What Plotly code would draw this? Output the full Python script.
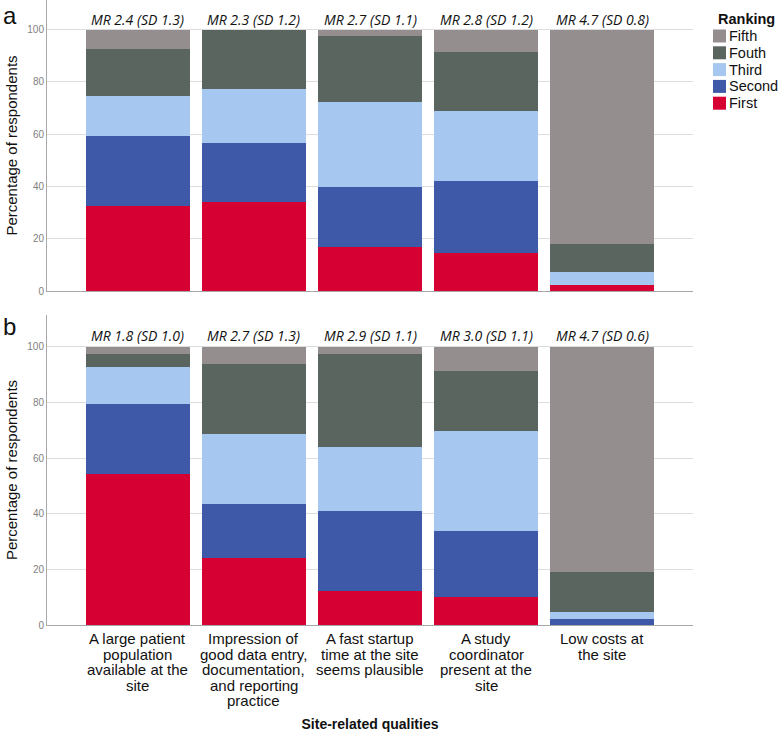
import plotly.graph_objects as go

categories = [
    "A large patient<br>population<br>available at the<br>site",
    "Impression of<br>good data entry,<br>documentation,<br>and reporting<br>practice",
    "A fast startup<br>time at the site<br>seems plausible",
    "A study<br>coordinator<br>present at the<br>site",
    "Low costs at<br>the site",
]
rank_names = ["First", "Second", "Third", "Fouth", "Fifth"]
rank_colors = ["#D70032", "#3E59A8", "#A6C8F0", "#5B6560", "#948F8E"]

# Panel a: percentage per ranking (First..Fifth) for each quality
a_first = [32.7, 34.0, 17.0, 14.4, 2.4]
a_second = [26.4, 22.6, 22.8, 27.7, 0.0]
a_third = [15.6, 20.7, 32.6, 26.7, 4.8]
a_fourth = [18.0, 22.7, 25.2, 22.8, 10.8]
a_fifth = [7.3, 0.0, 2.4, 8.4, 82.0]
a_labels = ["MR 2.4 (SD 1.3)", "MR 2.3 (SD 1.2)", "MR 2.7 (SD 1.1)", "MR 2.8 (SD 1.2)", "MR 4.7 (SD 0.8)"]

# Panel b
b_first = [54.3, 24.2, 12.3, 9.9, 0.0]
b_second = [25.2, 19.3, 28.8, 24.0, 2.2]
b_third = [13.4, 25.3, 22.8, 36.0, 2.4]
b_fourth = [4.5, 25.0, 33.5, 21.5, 14.6]
b_fifth = [2.6, 6.2, 2.6, 8.6, 80.8]
b_labels = ["MR 1.8 (SD 1.0)", "MR 2.7 (SD 1.3)", "MR 2.9 (SD 1.1)", "MR 3.0 (SD 1.1)", "MR 4.7 (SD 0.6)"]

W, H = 778, 735
ML, MR_, MT, MB = 47, 85, 0, 110
PW, PH = W - ML - MR_, H - MT - MB


def px2x(px):
    return (px - ML) / PW


def py2y(py):
    return (H - MB - py) / PH


ARIAL = "Liberation Sans, Arial, sans-serif"

fig = go.Figure()
xidx = list(range(len(categories)))
panels = [
    ([a_first, a_second, a_third, a_fourth, a_fifth], "x", "y"),
    ([b_first, b_second, b_third, b_fourth, b_fifth], "x2", "y2"),
]
for series, xa, ya in panels:
    for name, color, vals in zip(rank_names, rank_colors, series):
        fig.add_trace(go.Bar(
            x=xidx, y=vals, name=name, marker=dict(color=color, line=dict(width=0)),
            xaxis=xa, yaxis=ya, showlegend=False, hoverinfo="y+name",
        ))

grid = "#DCDCDC"
axcol = "#A8A8A8"
tickfont = dict(family=ARIAL, size=10, color="#7F7F7F")
common_y = dict(
    tickvals=[0, 20, 40, 60, 80, 100], showgrid=True, gridcolor=grid, gridwidth=1,
    showline=True, linecolor=axcol, linewidth=1, zeroline=False, ticks="", tickfont=tickfont,
    automargin=False,
    title=dict(text="Percentage of respondents", font=dict(family=ARIAL, size=15, color="#111"),
               standoff=6),
)
common_x = dict(
    range=[-0.78, 4.78], showline=True, linecolor=axcol, linewidth=1, showgrid=False,
    zeroline=False, ticks="", tickvals=xidx, showticklabels=False, automargin=False,
)

fig.update_layout(
    width=W, height=H,
    margin=dict(l=ML, r=MR_, t=MT, b=MB, autoexpand=False),
    paper_bgcolor="white", plot_bgcolor="white",
    barmode="stack", bargap=0.106, showlegend=False,
    xaxis=dict(**common_x, anchor="y"),
    yaxis=dict(**common_y, domain=[py2y(291), 1.0], range=[0, 111.3], anchor="x"),
    xaxis2=dict(**common_x, anchor="y2",
                title=dict(text="<b>Site-related qualities</b>",
                           font=dict(family=ARIAL, size=14, color="#111"), standoff=94)),
    yaxis2=dict(**common_y, domain=[0.0, py2y(315)], range=[0, 111.5], anchor="x2"),
)

# MR (SD) labels above bars
mr_font = dict(family="Open Sans, sans-serif", size=14, color="#111")
for labels, xr, yr in [(a_labels, "x", "y"), (b_labels, "x2", "y2")]:
    for i, t in enumerate(labels):
        fig.add_annotation(x=i, y=104, xref=xr, yref=yr, text="<i>" + t + "</i>",
                           showarrow=False, font=mr_font, yanchor="middle")

# Category labels (tight line spacing as in the reference)
for i, cat in enumerate(categories):
    for k, line in enumerate(cat.split("<br>")):
        fig.add_annotation(x=i, xref="x2", y=py2y(638.5 + 15.5 * k), yref="paper", text=line,
                           showarrow=False, yanchor="middle",
                           font=dict(family=ARIAL, size=15, color="#111"))

# Panel letters
for letter, py in [("a", 15), ("b", 326)]:
    fig.add_annotation(x=px2x(1), y=py2y(py), xref="paper", yref="paper", text=letter,
                       showarrow=False, xanchor="left", yanchor="middle",
                       font=dict(family=ARIAL, size=24, color="#111"))

# Legend
fig.add_annotation(x=px2x(716), y=py2y(19), xref="paper", yref="paper", text="<b>Ranking</b>",
                   showarrow=False, xanchor="left", yanchor="middle",
                   font=dict(family=ARIAL, size=14.5, color="#111"))
leg_names = rank_names[::-1]
leg_colors = rank_colors[::-1]
for k, (name, color) in enumerate(zip(leg_names, leg_colors)):
    cy = 36 + 16.8 * k
    fig.add_shape(type="rect", xref="paper", yref="paper",
                  x0=px2x(713), x1=px2x(726), y0=py2y(cy + 6.5), y1=py2y(cy - 6.5),
                  fillcolor=color, line=dict(width=0))
    fig.add_annotation(x=px2x(727), y=py2y(cy), xref="paper", yref="paper", text=name,
                       showarrow=False, xanchor="left", yanchor="middle",
                       font=dict(family=ARIAL, size=14.5, color="#111"))

fig.write_html("out.html", config={"displayModeBar": False},
               post_script="document.body.style.margin='0';")
